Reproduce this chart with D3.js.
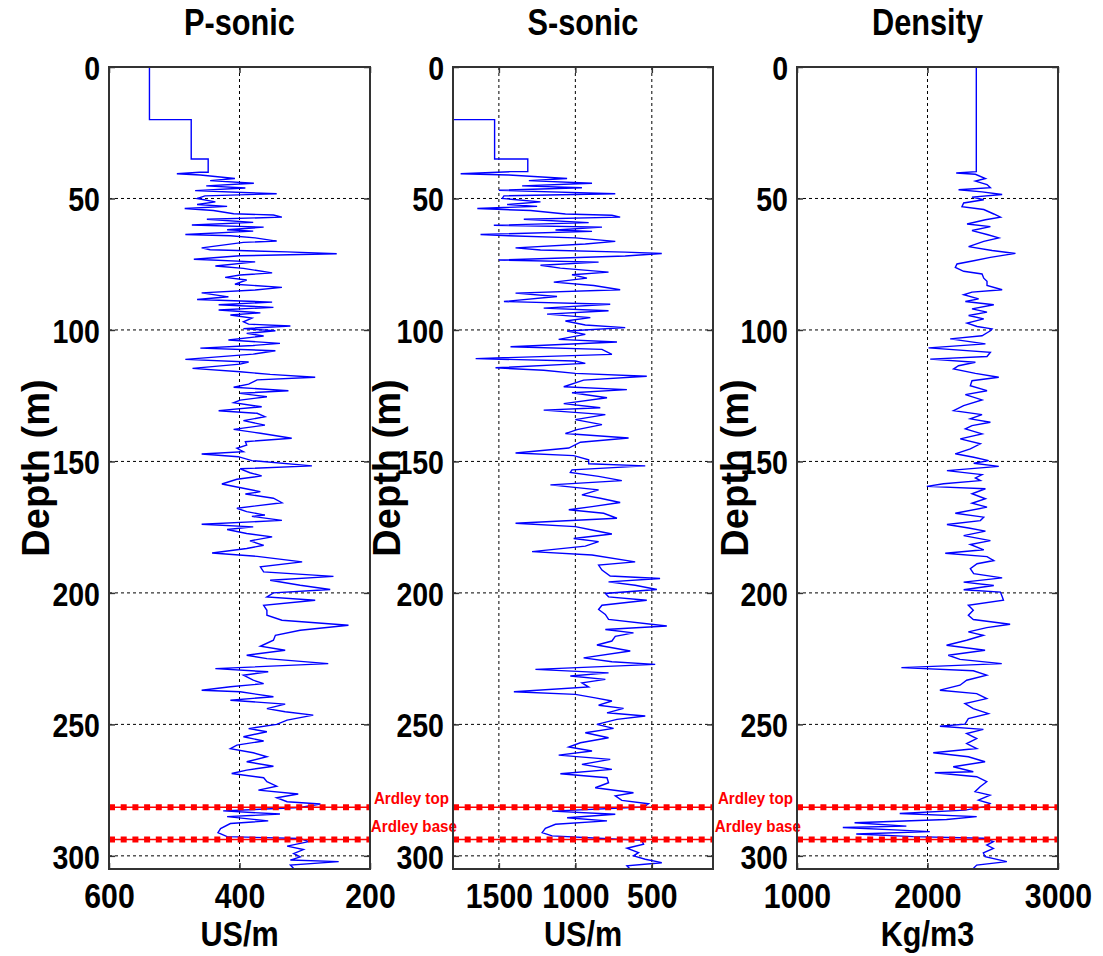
<!DOCTYPE html>
<html>
<head>
<meta charset="utf-8">
<script src="https://cdn.jsdelivr.net/npm/d3@7"></script>
<style>
  body { margin: 0; background: #fff; }
  text { font-family: "Liberation Sans", Arial, sans-serif; font-weight: bold; }
</style>
</head>
<body>
<svg id="chart" width="1103" height="956"></svg>
<script>
// ---- data: [depth (m), value] ----
var pSonic = [
  [0,538],[20,538],[20,474],[35,474],[35,448],[40,448],[40,461],
  [40.6,496],[41.1,460],[42.4,407],[43.2,445],[44.2,378],[45.2,451],[46,391],[47,468],[48.2,343],[49,453],[50,465],[51.3,437],[52.3,465],[53,419],[53.8,484],[54.6,440],[55.8,409],[56.3,348],[57.1,335],[57.9,450],[59.1,379],[60.1,473],[60.9,363],[61.9,419],[62.4,379],[63.7,483],[64.2,414],[65,376],[66.2,343],[66.7,394],[68.8,458],[69.5,445],[70.3,327],[71,251],[71.8,399],[73.1,470],
  [74.1,376],[75.7,437],[76.6,394],[78.3,350],[79.1,399],[80,422],[81,389],[82.6,407],[83.8,335],[84.8,376],[85.9,458],[87.4,417],[88.4,465],[89.4,350],[90.4,432],[91.4,348],[92.4,432],[93.5,368],[94.3,414],[95.5,381],[96.9,394],[97.8,386],[98.5,322],[99.5,394],[100.3,345],[101.3,389],[102.3,363],[103.8,417],[105.1,338],[105.9,379],[106.9,460],[107.9,345],[109.2,379],[111.2,483],[112.2,386],[113,399],[114.6,472],[115.9,399],[116.9,353],[118,284],[119,373],[120.6,386],[121.8,409],[123.1,325],[124.1,399],[125.4,358],[126.7,399],[127.7,409],[129.2,366],[130.7,432],[131.7,373],[133,361],[134.5,394],[136.2,361],[137.8,409],[139.3,368],[141.2,320],[142.5,391],[143.8,389],[145,404],[146.3,394],[147.2,458],[148.2,402],[149.7,381],[151.7,289],[152.8,399],[154.3,384],[155.5,366],[156.8,404],[158.6,427],[159.8,402],[161.5,368],[162.4,391],[164,348],[165.7,335],[167.8,404],[169.1,389],[170.4,361],
  [170.9,381],[172.4,335],[173.9,458],[174.9,379],[175.9,419],[177.4,389],[178.7,350],[180.2,384],[181.9,363],[183.1,389],[184.8,442],[186.1,373],[188.2,304],[190.1,368],[192,363],[193.7,256],[195.2,353],[197.1,307],[198.7,261],[200,348],[201.5,358],[202.8,284],[204.7,363],[206.6,358],[208.5,358],[210.4,335],[212.3,233],[214.2,307],[216.1,345],[218,348],[220.3,368],[221.8,330],[223.7,389],[225,358],[226.9,264],[228.8,437],[230,356],[231.3,394],[233.2,379],[234.5,363],[235.7,414],[237,458],[237.6,399],[239.5,348],[240.8,414],[242.3,330],[244,358],[245.2,330],[246.5,287],[248.4,327],[250,343],[251.6,386],[252.8,358],[254.7,394],[256.3,363],[257.9,404],[259.2,414],[260.8,379],[262.3,358],[264.2,389],[265.9,348],[267.4,389],[268.7,412],[270.3,363],[271.8,358],[273.5,343],[275,371],[276.5,310],[277.9,343],[279.4,327],[280.3,276],[281.6,307],[282.9,425],[284.1,338],[285.1,419],[286.7,356],[287.7,414],[289.6,429],[291.2,433],[292.7,419],[293.4,307],[294.6,294],[296.3,327],[297.6,302],[299.1,317],[300.4,307],[301.6,322],[302.2,248],[303.5,322],[304.8,317]
];

var sSonic = [
  [0,1900],[20,1900],[20,1528],[35,1528],[35,1311],[39.8,1311],[39.8,1424],
  [40.6,1750],[41.1,1435],[42.4,1054],[43.2,1304],[44.2,891],[45.2,1348],[45.9,957],[46.9,1500],[48.2,739],[49,1467],[50,1478],[51.3,1228],[52.3,1446],[53,1250],[53.8,1641],[54.6,1293],[55.9,1065],[56.4,761],[57.1,707],[57.9,1337],[59.2,913],[60.2,1533],[60.9,826],[62,1130],[62.5,891],[63.7,1620],[64.2,1435],[65,1000],[66.3,739],[67.3,935],[68.8,1391],[69.6,1228],[70.4,674],[70.9,435],[71.9,674],[73.4,1500],[74.2,848],[75.4,1228],[76.5,1098],[78,783],[79,1022],[80.3,924],[81.8,1141],[83.1,880],[84.7,707],[86,1391],[87.3,1120],[89.2,1467],[90.2,772],[91.7,1207],[92.7,783],[94,1185],[95.3,902],[96.6,1065],[98.1,935],[99.1,674],[100.4,1054],
  [101.7,935],[103.6,1109],[104.6,728],[106.4,1424],[107.4,826],[109.3,761],[110.9,1652],[111.8,1000],[112.7,935],[114.4,1522],[115.3,1207],[116.5,1000],[117.6,533],[119.1,946],[121.6,1076],[122.7,663],[123.9,1022],[125.8,793],[128,1076],[129.6,837],[130.5,1207],[132.2,804],[134.1,1000],[136,826],[137.9,989],[139.4,1065],[141.1,652],[142.7,967],[144.9,1043],[146.8,1391],[147.8,1011],[149.4,913],[150.9,913],[151.7,543],[153.2,1022],[154.2,1033],[155.7,848],[157.3,696],[158.9,1163],[160.8,848],[162.7,957],[164,837],[165.6,707],[167.2,891],[168.4,1043],[169.7,815],[171.6,728],[173.5,1391],[174.8,1000],[176.1,891],[177.6,761],[179.3,1011],[180.5,848],[182.2,935],[184.3,1283],[185.6,891],[188.2,609],[189.4,848],[191.3,826],[193.6,772],[194.5,446],[195.8,783],[197.1,609],[198.7,467],[200.2,804],[201.5,783],[202.8,533],[204.7,826],[206.3,848],[208.2,804],[210.1,783],[212.6,402],[213.9,804],[215.2,620],[216.5,739],[218.3,761],[219.8,859],[222.1,641],[224.7,946],[226.2,761],[227.2,478],[229.1,1261],[230.4,783],[231.6,1033],[232.9,804],[234.2,957],[235.8,913],[237.6,1402],[238.6,1000],[239.9,870],[241.1,761],[242.7,848],[243.9,685],[245.6,793],[246.8,543],[248.1,728],[250,859],[251.5,750],[253.2,935],[255.1,783],[257,967],[258.6,1043],[260.1,891],[261.7,1109],[263.3,772],[265.2,957],[267.1,761],[268.8,1098],[270.3,793],[272.2,783],[274.1,870],[276,620],[277.2,739],[278.9,696],[280.2,522],[281.4,554],[283,1152],[284.2,739],[285.5,1054],[286.7,793],[288,1130],[289.5,1196],[291.2,1217],[292.4,1152],[293.3,848],[294.1,565],[295.6,554],[297.1,663],[298.8,587],[300,620],[301.3,543],[302.6,435],[303.8,663],[305.1,641]
];

var density = [
  [0,2374],[39.8,2374],[40.3,2220],[40.8,2367],[42.4,2444],[43.4,2367],[44.7,2456],[45.9,2482],[46.7,2238],[47.5,2418],[48.5,2572],[49.5,2341],[50.5,2431],[51.7,2277],[53.1,2264],[54.2,2431],[55.9,2508],[57.1,2559],[58.1,2444],[59.7,2303],[60.7,2482],[62.2,2341],[63.7,2456],[65,2546],[66.3,2431],[68.3,2315],[69.8,2495],[70.9,2674],[72.4,2482],[73.7,2354],[74.9,2226],[76.2,2213],[77.7,2277],[78.7,2418],[80.3,2431],[81.5,2456],[83.1,2456],[84.7,2572],[85.6,2341],[86.6,2277],[88.2,2392],[89.2,2290],[90.4,2508],[92,2341],[93.2,2456],[94.5,2315],[95.8,2431],[97.4,2303],[98.7,2380],[99.6,2495],
  [100.3,2482],[102.2,2418],[103.4,2174],[105.3,2444],[106.8,2008],[108.5,2482],[110.1,2456],[111.1,2021],[112.3,2367],[113.6,2238],[114.8,2200],[116.5,2367],[118,2546],[119.3,2341],[121.2,2328],[123.1,2456],[124.6,2290],[126.6,2418],[128.8,2277],[130.7,2200],[132.2,2418],[133.8,2328],[135.1,2482],[136.4,2341],[137.6,2290],[139.5,2418],[141.4,2251],[143.3,2405],[145.2,2328],[147.1,2213],[148.4,2354],[149.7,2469],[150.7,2354],[151.9,2546],[153.5,2149],[155,2418],[156.3,2367],[157.3,2405],[158.5,2123],[159.5,1995],[160.4,2444],[162.3,2341],[164.2,2444],[165.9,2341],[167.4,2456],[169.7,2213],[171.2,2431],[172.5,2405],[174,2149],[175.3,2315],[176.5,2444],[178.2,2277],[180.1,2482],[181.6,2328],[183.6,2431],[184.9,2136],[186.2,2456],[187.7,2508],[188.9,2380],[190.8,2328],[192.7,2354],[194.3,2572],[195.9,2277],[197.2,2508],[198.8,2277],[199.7,2559],[201.4,2572],
  [202.8,2582],[204.7,2313],[206.6,2351],[208.5,2313],[210.1,2351],[211.9,2633],[213.2,2454],[214.8,2313],[216.1,2428],[218,2300],[219.9,2146],[221.8,2441],[223.7,2159],[225.3,2249],[226.9,2569],[228.4,1800],[229.6,2351],[231.3,2454],[233.2,2300],[235.1,2249],[237,2095],[238.3,2377],[240.2,2454],[242.1,2287],[244,2351],[245.9,2467],[247.8,2313],[249.9,2287],[250.7,2095],[251.9,2428],[253.5,2300],[255.4,2377],[257.3,2300],[259.2,2377],[260.8,2044],[262.3,2313],[264.2,2441],[266.1,2197],[268,2351],[268.4,2056],[269.9,2377],[271.8,2454],[273.7,2403],[275.6,2364],[276.9,2479],[278.8,2390],[280.1,2479],[281.3,2441],[282.6,2287],[283.9,1787],[285.1,2377],[286.2,2146],[287.4,1441],[288.7,1838],[289.2,1351],[290.2,1787],[290.8,2018],[291.7,1454],[292.7,1890],[293.3,2428],[294.6,2505],[295.9,2454],[297.2,2505],[298.9,2428],[300.3,2441],[302.2,2608],[303.5,2377],[304.8,2351]
];

var depthTicks = [0, 50, 100, 150, 200, 250, 300];
var pTicks = [600, 400, 200];
var sTicks = [1500, 1000, 500];
var rhoTicks = [1000, 2000, 3000];

var titles = ["P-sonic", "S-sonic", "Density"];
var units = ["US/m", "US/m", "Kg/m3"];

// Ardley formation markers (depth, m)
var markers = [
  { name: "Ardley top", depth: 281.5 },
  { name: "Ardley base", depth: 293.8 }
];

// ---- layout ----
var plotTop = 67, plotBottom = 869;
var sx = 0.84; // horizontal squeeze to mimic the narrow bold font

var panels = [
  { title: titles[0], unit: units[0], data: pSonic,  domain: [600, 200],  ticks: pTicks,   left: 109, right: 370, ylab: 35,  labels: false },
  { title: titles[1], unit: units[1], data: sSonic,  domain: [1800, 100], ticks: sTicks,   left: 453, right: 713, ylab: 386, labels: true },
  { title: titles[2], unit: units[2], data: density, domain: [1000, 3000], ticks: rhoTicks, left: 797, right: 1058, ylab: 734, labels: true }
];

var svg = d3.select("#chart");
var y = d3.scaleLinear().domain([0, 305]).range([plotTop, plotBottom]);
var fmt = d3.format("d");

function squeeze(sel, k) {
  sel.each(function () {
    var t = d3.select(this);
    var x = +t.attr("x") || 0;
    t.attr("x", x / k).attr("transform", "scale(" + k + ",1)");
  });
}

function inwardTicks(a) {
  a.select(".domain").remove();
  a.selectAll("line").attr("stroke", "#333").attr("stroke-width", 1.5);
}

panels.forEach(function (p, i) {
  var x = d3.scaleLinear().domain(p.domain).range([p.left, p.right]);
  var g = svg.append("g");

  g.append("clipPath").attr("id", "clip" + i)
    .append("rect")
    .attr("x", p.left).attr("y", plotTop)
    .attr("width", p.right - p.left).attr("height", plotBottom - plotTop);

  // grid
  g.append("g").selectAll("line")
    .data(p.ticks.filter(function (d) { return x(d) > p.left + 1 && x(d) < p.right - 1; }))
    .join("line")
    .attr("x1", function (d) { return x(d); }).attr("x2", function (d) { return x(d); })
    .attr("y1", plotTop).attr("y2", plotBottom)
    .attr("stroke", "#000").attr("stroke-width", 1).attr("stroke-dasharray", "3,3");

  g.append("g").selectAll("line")
    .data(depthTicks.filter(function (d) { return d > 0; }))
    .join("line")
    .attr("x1", p.left).attr("x2", p.right)
    .attr("y1", function (d) { return y(d); }).attr("y2", function (d) { return y(d); })
    .attr("stroke", "#000").attr("stroke-width", 1).attr("stroke-dasharray", "3,3");

  // log curve
  var line = d3.line()
    .x(function (d) { return x(d[1]); })
    .y(function (d) { return y(d[0]); });

  g.append("path")
    .datum(p.data)
    .attr("clip-path", "url(#clip" + i + ")")
    .attr("d", line)
    .attr("fill", "none")
    .attr("stroke", "#0000ff")
    .attr("stroke-width", 1.4);

  // Ardley markers
  markers.forEach(function (m) {
    g.append("line")
      .attr("x1", p.left).attr("x2", p.right)
      .attr("y1", y(m.depth)).attr("y2", y(m.depth))
      .attr("stroke", "#ff0000").attr("stroke-width", 1.5);
    g.append("line")
      .attr("x1", p.left).attr("x2", p.right)
      .attr("y1", y(m.depth)).attr("y2", y(m.depth))
      .attr("stroke", "#ff0000").attr("stroke-width", 6)
      .attr("stroke-dasharray", "6,5.7");
  });

  if (p.labels) {
    g.append("text").attr("x", p.left - 4).attr("y", 804)
      .attr("text-anchor", "end").attr("fill", "#ff0000").attr("font-size", 16)
      .text(markers[0].name).call(squeeze, 0.95);
    g.append("text").attr("x", p.left + 4).attr("y", 832)
      .attr("text-anchor", "end").attr("fill", "#ff0000").attr("font-size", 16)
      .text(markers[1].name).call(squeeze, 0.95);
  }

  // inward ticks on all four sides
  g.append("g").attr("transform", "translate(" + p.left + ",0)")
    .call(d3.axisLeft(y).tickValues(depthTicks).tickSize(-6).tickFormat(""))
    .call(inwardTicks);
  g.append("g").attr("transform", "translate(" + p.right + ",0)")
    .call(d3.axisRight(y).tickValues(depthTicks).tickSize(-6).tickFormat(""))
    .call(inwardTicks);
  g.append("g").attr("transform", "translate(0," + plotBottom + ")")
    .call(d3.axisBottom(x).tickValues(p.ticks).tickSize(-6).tickFormat(""))
    .call(inwardTicks);
  g.append("g").attr("transform", "translate(0," + plotTop + ")")
    .call(d3.axisTop(x).tickValues(p.ticks).tickSize(-6).tickFormat(""))
    .call(inwardTicks);

  // box
  g.append("rect")
    .attr("x", p.left).attr("y", plotTop)
    .attr("width", p.right - p.left).attr("height", plotBottom - plotTop)
    .attr("fill", "none").attr("stroke", "#333").attr("stroke-width", 2);

  // tick labels
  var yAx = g.append("g").attr("transform", "translate(" + p.left + ",0)")
    .call(d3.axisLeft(y).tickValues(depthTicks).tickFormat(fmt).tickSize(0).tickPadding(9));
  yAx.select(".domain").remove();
  yAx.attr("font-family", null).attr("font-size", null);
  yAx.selectAll("text").attr("font-size", 34).attr("fill", "#000").attr("dy", "0.36em").call(squeeze, sx);

  var xAx = g.append("g").attr("transform", "translate(0," + plotBottom + ")")
    .call(d3.axisBottom(x).tickValues(p.ticks).tickFormat(fmt).tickSize(0).tickPadding(0));
  xAx.select(".domain").remove();
  xAx.attr("font-family", null).attr("font-size", null);
  xAx.selectAll("text").attr("font-size", 36).attr("fill", "#000").attr("dy", null).attr("y", 39).call(squeeze, sx);

  // titles and axis labels
  var cx = (p.left + p.right) / 2;
  g.append("text").attr("x", cx).attr("y", 35).attr("text-anchor", "middle")
    .attr("font-size", 37).text(p.title).call(squeeze, 0.83);
  g.append("text").attr("x", cx).attr("y", 946).attr("text-anchor", "middle")
    .attr("font-size", 36).text(p.unit).call(squeeze, 0.85);
  g.append("text")
    .attr("transform", "translate(" + p.ylab + ",468) rotate(-90)")
    .attr("text-anchor", "middle").attr("dy", "0.36em")
    .attr("font-size", 38).text("Depth (m)");
});
</script>
</body>
</html>
